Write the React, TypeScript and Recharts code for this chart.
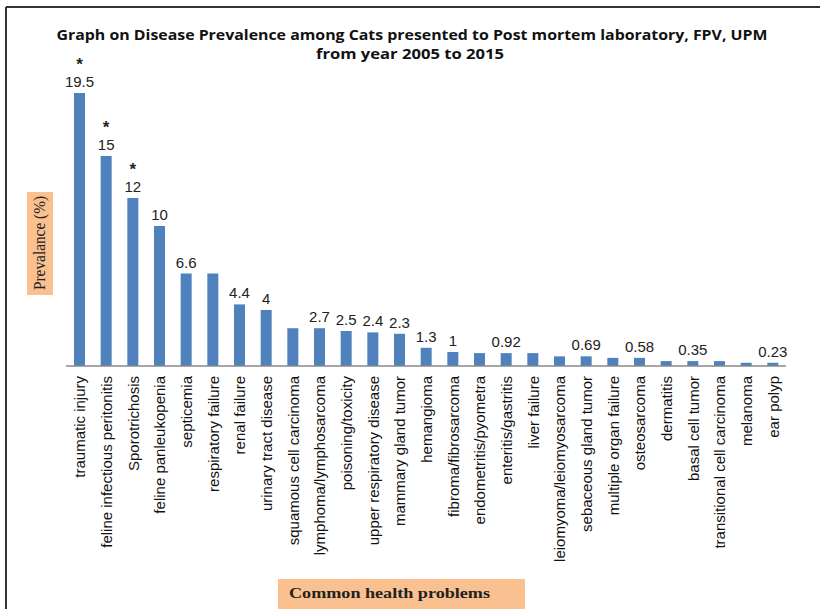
import React from 'react';
import { BarChart, Bar, XAxis, YAxis, LabelList } from 'recharts';

const categories = [
  'traumatic injury',
  'feline infectious peritonitis',
  'Sporotrichosis',
  'feline panleukopenia',
  'septicemia',
  'respiratory failure',
  'renal failure',
  'urinary tract disease',
  'squamous cell carcinoma',
  'lymphoma/lymphosarcoma',
  'poisoning/toxicity',
  'upper respiratory disease',
  'mammary gland tumor',
  'hemangioma',
  'fibroma/fibrosarcoma',
  'endometritis/pyometra',
  'enteritis/gastritis',
  'liver failure',
  'leiomyoma/leiomyosarcoma',
  'sebaceous gland tumor',
  'multiple organ failure',
  'osteosarcoma',
  'dermatitis',
  'basal cell tumor',
  'transitional cell carcinoma',
  'melanoma',
  'ear polyp',
];

// prevalence (%) per category
const prevalence = [
  19.5, 15, 12, 10, 6.6, 6.6, 4.4, 4, 2.7, 2.7, 2.5, 2.4, 2.3, 1.3, 1,
  0.92, 0.92, 0.92, 0.69, 0.69, 0.58, 0.58, 0.35, 0.35, 0.35, 0.23, 0.23,
];

// the original only labels some of the bars
const valueLabels = [
  '19.5', '15', '12', '10', '6.6', '', '4.4', '4', '', '2.7', '2.5', '2.4', '2.3', '1.3', '1',
  '', '0.92', '', '', '0.69', '', '0.58', '', '0.35', '', '', '0.23',
];

const starred = ['traumatic injury', 'feline infectious peritonitis', 'Sporotrichosis'];

const yDomain = [0, 20];

const TITLE_1 = 'Graph on Disease Prevalence among Cats presented to Post mortem laboratory, FPV, UPM';
const TITLE_2 = 'from year 2005 to 2015';
const Y_TITLE = 'Prevalance (%)';
const X_TITLE = 'Common health problems';

const data = categories.map((name, i) => ({
  name,
  value: prevalence[i],
  label: valueLabels[i],
  star: starred.includes(name) ? '*' : '',
}));

const BAR_COLOR = '#4F81BD';
const BOX_COLOR = '#FAC090';
const SANS = "'Liberation Sans', Arial, sans-serif";

const labelBox = (props: any) => {
  const vb = props.viewBox || props;
  return {
    x: props.x ?? vb.x,
    y: props.y ?? vb.y,
    width: props.width ?? vb.width,
  };
};

const ValueLabel = (props: any) => {
  if (!props.value) return null;
  const { x, y, width } = labelBox(props);
  return (
    <text x={x + width / 2} y={y - 6} textAnchor="middle" fontSize={15} fontFamily={SANS} fill="#222">
      {props.value}
    </text>
  );
};

const StarLabel = (props: any) => {
  if (!props.value) return null;
  const { x, y, width } = labelBox(props);
  return (
    <text
      x={x + width / 2}
      y={y - 23}
      textAnchor="middle"
      fontSize={17}
      fontWeight="bold"
      fontFamily={SANS}
      fill="#222"
    >
      {props.value}
    </text>
  );
};

const CategoryTick = ({ x, y, payload }: any) => (
  <text
    transform={`translate(${x},${y + 10}) rotate(-90)`}
    textAnchor="end"
    dy="0.4em"
    fontSize={15}
    fontFamily={SANS}
    fill="#111"
  >
    {payload.value}
  </text>
);

export default function App() {
  return (
    <div style={{ position: 'relative', width: 820, height: 609, background: '#fff' }}>
      <style>{'body{margin:0}'}</style>
      <BarChart
        width={820}
        height={609}
        data={data}
        margin={{ top: 86, right: 34, left: 66, bottom: 43 }}
      >
        <YAxis hide domain={yDomain} />
        <XAxis
          dataKey="name"
          interval={0}
          height={200}
          tickSize={0}
          tickMargin={0}
          tickLine={false}
          axisLine={{ stroke: '#888', strokeWidth: 1.5 }}
          tick={<CategoryTick />}
        />
        <Bar dataKey="value" fill={BAR_COLOR} barSize={11} isAnimationActive={false}>
          <LabelList dataKey="label" content={<ValueLabel />} />
          <LabelList dataKey="star" content={<StarLabel />} />
        </Bar>
      </BarChart>

      <svg
        width={820}
        height={609}
        style={{ position: 'absolute', left: 0, top: 0, pointerEvents: 'none' }}
      >
        <line x1={6} y1={7} x2={820} y2={7} stroke="#333" strokeWidth={2} />
        <line x1={6} y1={7} x2={6} y2={609} stroke="#333" strokeWidth={2} />

        <text
          x={412}
          y={40}
          textAnchor="middle"
          fontSize={14}
          fontWeight="bold"
          fontFamily="'Open Sans', sans-serif"
          fill="#111"
          textLength={711}
          lengthAdjust="spacingAndGlyphs"
        >
          {TITLE_1}
        </text>
        <text
          x={410}
          y={59}
          textAnchor="middle"
          fontSize={14}
          fontWeight="bold"
          fontFamily="'Open Sans', sans-serif"
          fill="#111"
          textLength={188}
          lengthAdjust="spacingAndGlyphs"
        >
          {TITLE_2}
        </text>

        <rect x={27} y={192} width={26} height={103} fill={BOX_COLOR} />
        <text
          transform="translate(45,243) rotate(-90)"
          textAnchor="middle"
          fontSize={16}
          fontFamily="'Liberation Serif', 'Times New Roman', serif"
          fill="#222"
          textLength={94}
          lengthAdjust="spacingAndGlyphs"
        >
          {Y_TITLE}
        </text>

        <rect x={278} y={579} width={247} height={30} fill={BOX_COLOR} />
        <text
          x={289}
          y={598}
          fontSize={15}
          fontWeight="bold"
          fontFamily="'Liberation Serif', 'Times New Roman', serif"
          fill="#222"
          textLength={201}
          lengthAdjust="spacingAndGlyphs"
        >
          {X_TITLE}
        </text>
      </svg>
    </div>
  );
}
